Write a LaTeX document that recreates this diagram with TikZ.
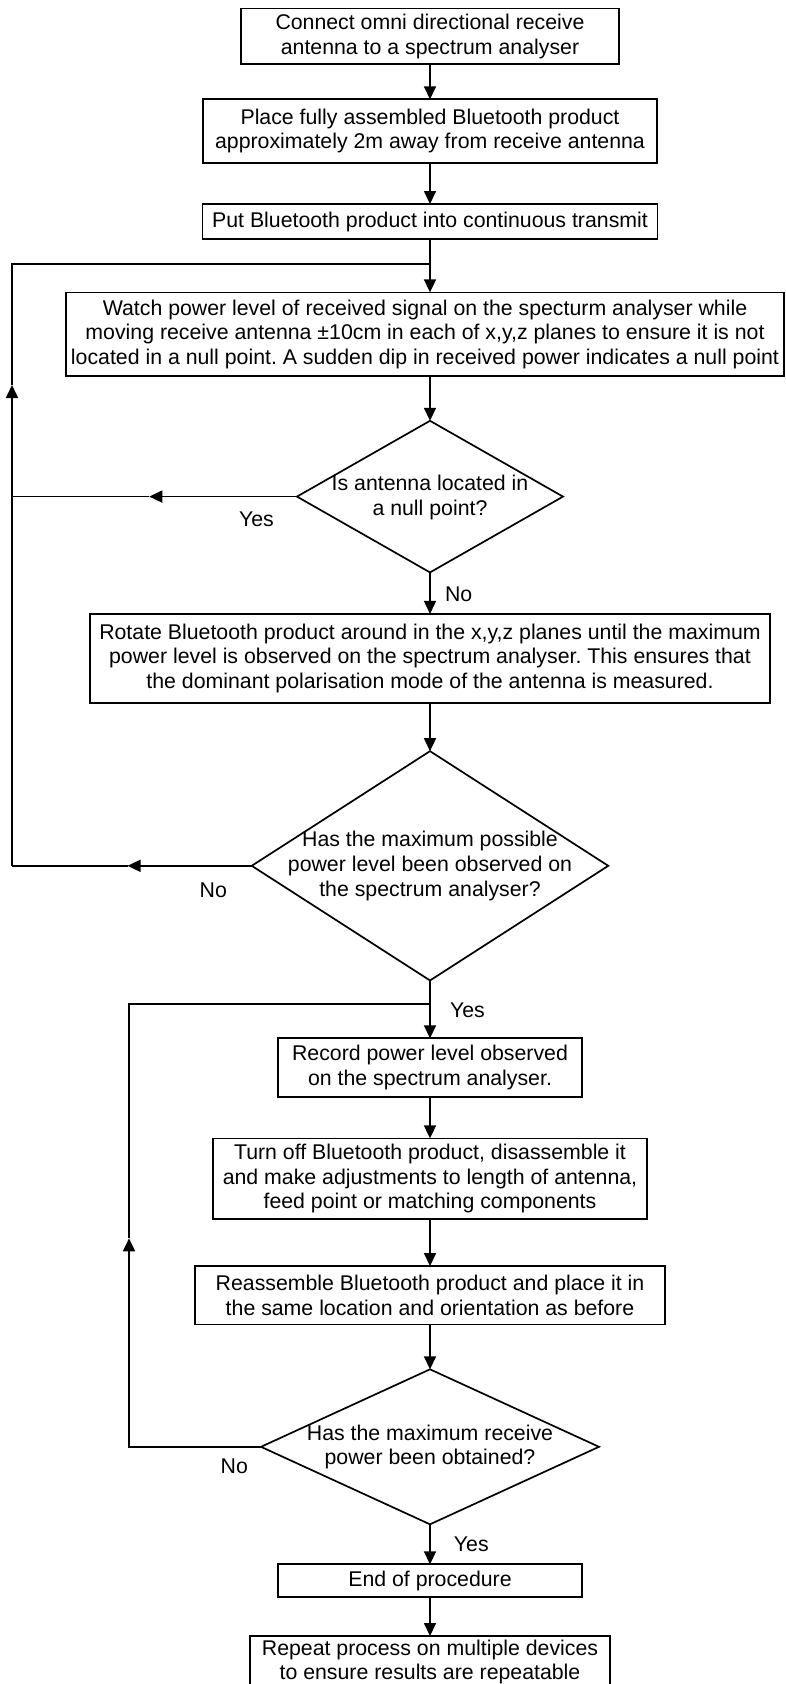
\documentclass[tikz,border=0pt]{standalone}
\usepackage{fontspec}
\setmainfont{Liberation Sans}
\usetikzlibrary{shapes.geometric,arrows.meta}
\frenchspacing
\begin{document}
\begin{tikzpicture}[x=1pt,y=-1pt,
  every node/.style={font=\fontsize{21.3pt}{24.7pt}\selectfont},
  box/.style={draw, line width=1.7pt, rectangle, align=center, inner sep=0pt, outer sep=0pt},
  dia/.style={draw, line width=1.7pt, diamond, inner sep=0pt, outer sep=0pt},
  dtext/.style={align=center, inner sep=0pt},
  lbl/.style={inner sep=0pt},
  arr/.style={line width=1.7pt, -{Triangle[length=13pt,width=12pt]}},
  ln/.style={line width=1.7pt},
]
\useasboundingbox (0,0) rectangle (785,1684);
\clip (0,0) rectangle (785,1684);

% boxes and decisions
\node[box, minimum width=378.5pt, minimum height=55.7pt] (b1) at (430,36.2)
  {Connect omni directional receive\\antenna to a spectrum analyser};
\node[box, minimum width=454.5pt, minimum height=63.4pt] (b2) at (430,131)
  {Place fully assembled Bluetooth product\\approximately 2m away from receive antenna};
\node[box, minimum width=455pt, minimum height=35pt] (b3) at (430,221.5)
  {Put Bluetooth product into continuous transmit};
\node[box, minimum width=718pt, minimum height=83.7pt] (b4) at (425,334.2)
  {Watch power level of received signal on the specturm analyser while\\moving receive antenna ±10cm in each of x,y,z planes to ensure it is not\\located in a null point. A sudden dip in received power indicates a null point};
\node[dia, minimum width=266pt, minimum height=151.6pt] (d1) at (430,496.6) {};
\node[dtext] (d1t) at (430,497.5) {Is antenna located in\\a null point?};
\node[box, minimum width=680pt, minimum height=88.7pt] (b5) at (430,658.3)
  {Rotate Bluetooth product around in the x,y,z planes until the maximum\\power level is observed on the spectrum analyser. This ensures that\\the dominant polarisation mode of the antenna is measured.};
\node[dia, minimum width=356.5pt, minimum height=229.3pt] (d2) at (430,865.8) {};
\node[dtext] (d2t) at (430,866) {Has the maximum possible\\power level been observed on\\the spectrum analyser?};
\node[box, minimum width=303.5pt, minimum height=58.4pt] (b6) at (430,1067.5)
  {Record power level observed\\on the spectrum analyser.};
\node[box, minimum width=434pt, minimum height=80.7pt] (b7) at (430,1178.7)
  {Turn off Bluetooth product, disassemble it\\and make adjustments to length of antenna,\\feed point or matching components};
\node[box, minimum width=469.5pt, minimum height=58.3pt] (b8) at (430,1295.2)
  {Reassemble Bluetooth product and place it in\\the same location and orientation as before};
\node[dia, minimum width=338pt, minimum height=155pt] (d3) at (430,1446.8) {};
\node[dtext] (d3t) at (430,1447) {Has the maximum receive\\power been obtained?};
\node[box, minimum width=303.5pt, minimum height=32.4pt] (b9) at (430,1580.5)
  {End of procedure};
\node[box, minimum width=360pt, minimum height=52pt] (b10) at (430,1662)
  {Repeat process on multiple devices\\to ensure results are repeatable};

% labels
\node[lbl] (y1) at (256.5,519) {Yes};
\node[lbl] (n1) at (458.7,594.7) {No};
\node[lbl] (n2) at (213.3,890.5) {No};
\node[lbl] (y2) at (467.5,1010) {Yes};
\node[lbl] (n3) at (234.3,1466.3) {No};
\node[lbl] (y3) at (471.3,1544) {Yes};

% helper coordinates
\coordinate (j1) at (430,264.3);
\coordinate (L1) at (12,264.3);
\coordinate (tv1) at (12,385);
\coordinate (t1) at (149.3,496.6);
\coordinate (L2) at (12,496.6);
\coordinate (t2) at (127.5,865.8);
\coordinate (L3) at (12,865.8);
\coordinate (j2) at (430,1004.3);
\coordinate (L4) at (129,1004.3);
\coordinate (tv2) at (129,1238.3);
\coordinate (L5) at (129,1446.8);

% main flow
\draw[arr] (b1) -- (b2);
\draw[arr] (b2) -- (b3);
\draw[ln] (b3.south) -- (j1);
\draw[arr] (j1) -- (j1 |- b4.north);
\draw[arr] (d1.north |- b4.south) -- (d1.north);
\draw[arr] (d1.south) -- (b5.north);
\draw[arr] (b5.south) -- (d2.north);
\draw[ln] (d2.south) -- (j2);
\draw[arr] (j2) -- (b6.north);
\draw[arr] (b6) -- (b7);
\draw[arr] (b7) -- (b8);
\draw[arr] (b8.south) -- (d3.north);
\draw[arr] (d3.south) -- (b9.north);
\draw[arr] (b9) -- (b10);

% loop 1 (null point / not maximum)
\draw[arr] (d1.west) -- (t1);
\draw[ln] (t1) -- (L2);
\draw[arr] (d2.west) -- (t2);
\draw[ln] (t2) -- (L3);
\draw[arr] (L3) -- (tv1);
\draw[ln] (tv1) -- (L1) -- (j1);

% loop 2 (max receive power not obtained)
\draw[arr] (d3.west) -- (L5) -- (tv2);
\draw[ln] (tv2) -- (L4) -- (j2);
\end{tikzpicture}
\end{document}
